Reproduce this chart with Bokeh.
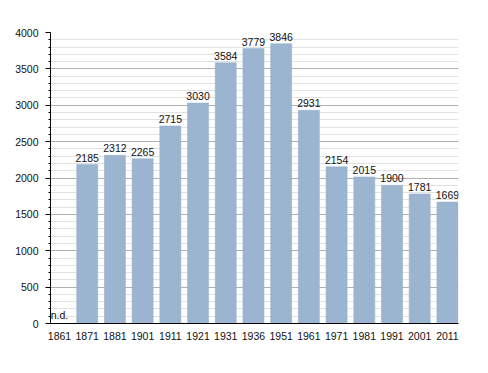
from bokeh.plotting import figure
from bokeh.models import ColumnDataSource, FixedTicker, Range1d, LabelSet
from bokeh.core.properties import value
from bokeh.embed import file_html
from bokeh.resources import INLINE

years = ["1861", "1871", "1881", "1901", "1911", "1921", "1931", "1936",
         "1951", "1961", "1971", "1981", "1991", "2001", "2011"]
population = [0, 2185, 2312, 2265, 2715, 3030, 3584, 3779,
              3846, 2931, 2154, 2015, 1900, 1781, 1669]
value_labels = ["n.d.", "2185", "2312", "2265", "2715", "3030", "3584", "3779",
                "3846", "2931", "2154", "2015", "1900", "1781", "1669"]
y_ticks = [0, 500, 1000, 1500, 2000, 2500, 3000, 3500, 4000]

xs = list(range(len(years)))
src = ColumnDataSource(dict(x=xs, top=population, label=value_labels))

p = figure(width=480, height=365, output_backend="svg", toolbar_location=None,
           x_range=Range1d(-0.325, 14.4), y_range=Range1d(0, 4000),
           min_border_left=50, min_border_right=22, min_border_top=32, min_border_bottom=42)
p.outline_line_color = None

p.vbar(x="x", top="top", width=0.76, source=src, fill_color="#9bb4cf",
       line_color="#94aeca", line_width=0.5)

font = "Liberation Sans"
labels = LabelSet(x="x", y="top", text="label", source=src, text_align="center",
                  text_baseline="bottom", y_offset=3, text_font=value(font),
                  text_font_size="10.5px", text_color="#111111")
p.add_layout(labels)

p.xaxis.ticker = FixedTicker(ticks=xs)
p.xaxis.major_label_overrides = {i: y for i, y in enumerate(years)}
p.xaxis.major_tick_line_color = None
p.xaxis.minor_tick_line_color = None
p.xaxis.axis_line_color = "black"
p.xaxis.major_label_standoff = 2
p.xaxis.major_label_text_font = font
p.xaxis.major_label_text_font_size = "10.5px"
p.xaxis.major_label_text_color = "#111111"

p.yaxis.ticker = FixedTicker(ticks=y_ticks, minor_ticks=list(range(0, 4001, 100)))
p.yaxis.axis_line_color = "black"
p.yaxis.major_tick_out = 5
p.yaxis.major_tick_in = 0
p.yaxis.minor_tick_out = 2
p.yaxis.minor_tick_in = 0
p.yaxis.major_tick_line_color = "black"
p.yaxis.minor_tick_line_color = "black"
p.yaxis.major_label_standoff = 7
p.yaxis.major_label_text_font = font
p.yaxis.major_label_text_font_size = "10.5px"
p.yaxis.major_label_text_color = "#111111"

p.xgrid.grid_line_color = None
p.ygrid.grid_line_color = "#b0b0b0"
p.ygrid.grid_line_width = 1
p.ygrid.minor_grid_line_color = "#e2e2e2"
p.ygrid.level = "underlay"

open("out.html", "w").write(file_html(p, INLINE))
